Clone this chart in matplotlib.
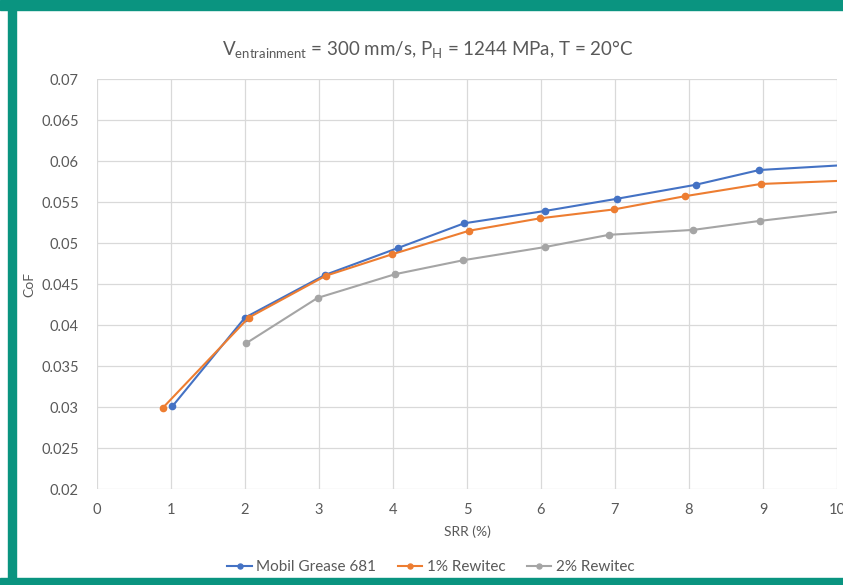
import matplotlib.pyplot as plt
from matplotlib.patches import Rectangle

plt.rcParams['font.family'] = ['Lato', 'DejaVu Sans']

# --- data ---
srr_mobil = [1.02, 2.0, 3.08, 4.07, 4.96, 6.05, 7.03, 8.09, 8.95, 10.1]
cof_mobil = [0.0301, 0.0409, 0.0461, 0.0494, 0.0524, 0.0539, 0.0554, 0.0571, 0.0589, 0.0595]

srr_1pct = [0.89, 2.05, 3.09, 3.98, 5.03, 5.98, 6.99, 7.94, 8.97, 10.1]
cof_1pct = [0.0299, 0.0409, 0.0460, 0.0486, 0.0515, 0.0530, 0.0541, 0.0557, 0.0572, 0.0576]

srr_2pct = [2.02, 2.98, 4.03, 4.95, 6.05, 6.92, 8.06, 8.96, 10.1]
cof_2pct = [0.0378, 0.0433, 0.0462, 0.0479, 0.0495, 0.0510, 0.0516, 0.0527, 0.0539]

x_ticks = list(range(0, 11))
y_ticks = [0.02, 0.025, 0.03, 0.035, 0.04, 0.045, 0.05, 0.055, 0.06, 0.065, 0.07]
y_labels = ['0.02', '0.025', '0.03', '0.035', '0.04', '0.045', '0.05', '0.055', '0.06', '0.065', '0.07']

text_col = '#595959'
grid_col = '#D9D9D9'

fig = plt.figure(figsize=(8.43, 5.85), dpi=100, facecolor='white')
ax = fig.add_axes([97 / 843, 1 - 489 / 585, 740 / 843, 410 / 585])

ax.plot(srr_mobil, cof_mobil, color='#4472C4', lw=1.5, marker='o', ms=4.5, label='Mobil Grease 681')
ax.plot(srr_1pct, cof_1pct, color='#ED7D31', lw=1.5, marker='o', ms=4.5, label='1% Rewitec')
ax.plot(srr_2pct, cof_2pct, color='#A5A5A5', lw=1.5, marker='o', ms=4.5, label='2% Rewitec')

ax.set_xlim(0, 10)
ax.set_ylim(0.02, 0.07)
ax.set_xticks(x_ticks)
ax.set_yticks(y_ticks)
ax.set_yticklabels(y_labels)
ax.grid(True, color=grid_col, lw=0.9)
ax.set_axisbelow(True)
for s in ax.spines.values():
    s.set_visible(False)
ax.tick_params(axis='x', length=0, colors=text_col, labelsize=10.5, pad=10)
ax.tick_params(axis='y', length=0, colors=text_col, labelsize=10.5, pad=13)

ax.set_xlabel('SRR (%)', color=text_col, fontsize=10, labelpad=6)
ax.set_ylabel('CoF', color=text_col, fontsize=10, labelpad=4)

fig.text(428 / 843, 1 - 50 / 585,
         r'V$_{\mathregular{entrainment}}$ = 300 mm/s, P$_{\mathregular{H}}$ = 1244 MPa, T = 20°C',
         ha='center', va='center', fontsize=13.5, color=text_col)

leg = fig.legend(loc='center', bbox_to_anchor=(431 / 843, 1 - 567 / 585), ncol=3,
                 frameon=False, fontsize=11, handlelength=1.6, columnspacing=1.4,
                 handletextpad=0.3, markerscale=0.8)
for t in leg.get_texts():
    t.set_color(text_col)

# teal frame around the screenshot
teal = '#0A9480'
fig.patches.append(Rectangle((0, 1 - 10 / 585), 1, 10 / 585, transform=fig.transFigure,
                             color=teal, zorder=10))
fig.patches.append(Rectangle((8 / 843, 0), 8 / 843, 1, transform=fig.transFigure,
                             color=teal, zorder=10))
fig.patches.append(Rectangle((0, 0), 1, 7 / 585, transform=fig.transFigure,
                             color=teal, zorder=10))

fig.savefig('out.png', dpi=100, facecolor='white')
